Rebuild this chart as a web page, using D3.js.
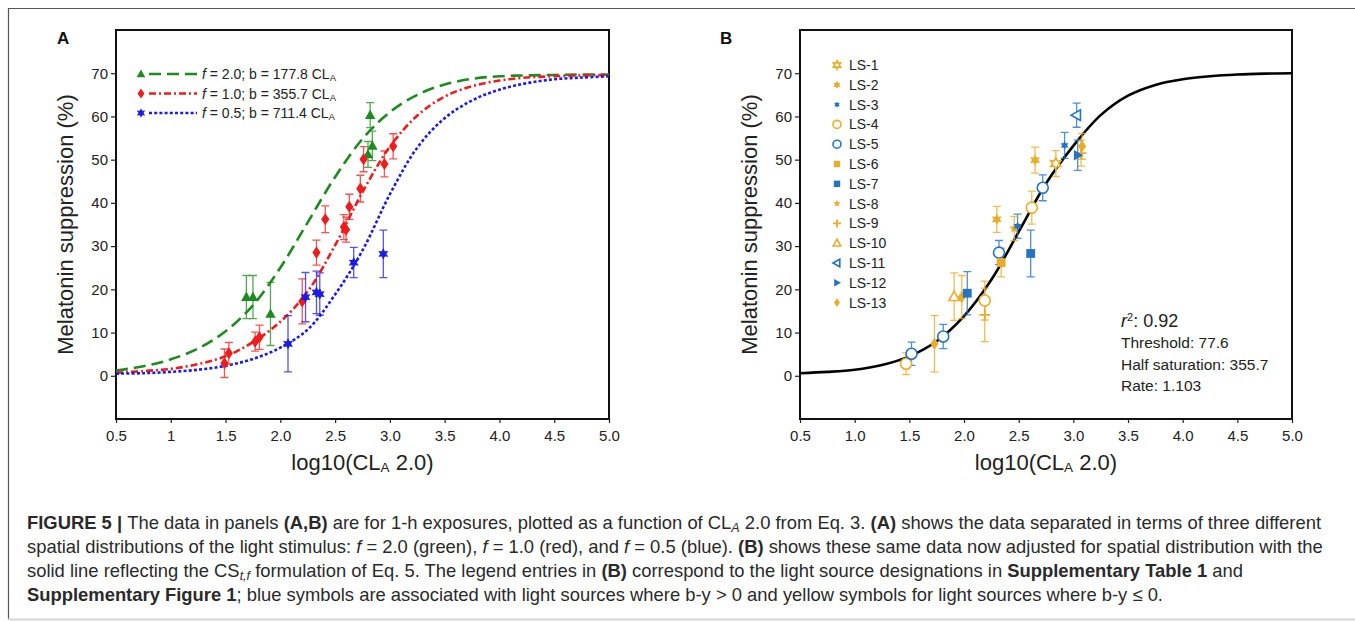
<!DOCTYPE html>
<html>
<head>
<meta charset="utf-8">
<script src="https://cdn.jsdelivr.net/npm/d3@7"></script>
<style>
  body { margin: 0; background: #fff; }
  svg { display: block; font-family: "Liberation Sans", Arial, sans-serif; }
</style>
</head>
<body>
<svg width="1355" height="621"></svg>
<script>
(function (d3) {
  "use strict";

  // ---- data ----
  const yTicks = [0, 10, 20, 30, 40, 50, 60, 70];
  const xTicks = [0.5, 1, 1.5, 2, 2.5, 3, 3.5, 4, 4.5, 5];
  const xTickLabelsA = ["0.5", "1", "1.5", "2.0", "2.5", "3.0", "3.5", "4.0", "4.5", "5.0"];
  const xTickLabelsB = ["0.5", "1.0", "1.5", "2.0", "2.5", "3.0", "3.5", "4.0", "4.5", "5.0"];

  // fitted curves
  const curveX = [0.5, 0.75, 1.0, 1.25, 1.5, 1.75, 2.0, 2.25, 2.5, 2.75, 3.0, 3.25, 3.5, 3.75, 4.0, 4.25, 4.5, 4.75, 5.0];
  const curveF20 = [1.2, 2.2, 3.8, 6.3, 10.3, 16.3, 25.0, 35.5, 46.0, 54.8, 61.0, 65.0, 67.4, 68.7, 69.3, 69.5, 69.6, 69.7, 69.7];
  const curveF10 = [0.7, 1.1, 1.6, 2.7, 4.5, 7.8, 12.5, 19.5, 30.2, 42.5, 53.0, 60.2, 64.6, 67.0, 68.3, 69.0, 69.3, 69.5, 69.6];
  const curveF05 = [0.5, 0.6, 0.9, 1.4, 2.3, 3.9, 6.5, 10.7, 18.8, 29.0, 42.0, 52.8, 59.6, 63.7, 66.2, 67.7, 68.6, 69.0, 69.3];
  const curveFit = [0.6, 0.9, 1.4, 2.5, 4.5, 8.0, 13.8, 22.2, 33.3, 44.5, 53.2, 60.3, 64.8, 67.3, 68.6, 69.3, 69.7, 69.9, 70.0];

  // panel A points: x = log10(CLA 2.0), y = suppression, e = error half-width
  const ptsF20 = [
    { x: 1.69, y: 18.2, e: 5.0 }, { x: 1.75, y: 18.2, e: 5.0 }, { x: 1.91, y: 14.3, e: 7.3 },
    { x: 2.82, y: 60.3, e: 2.9 }, { x: 2.80, y: 51.2, e: 3.0 }, { x: 2.84, y: 53.2, e: 3.4 }
  ];
  const ptsF10 = [
    { x: 1.49, y: 2.9, e: 3.3 }, { x: 1.53, y: 5.2, e: 2.5 }, { x: 1.77, y: 7.9, e: 2.2 },
    { x: 1.81, y: 8.9, e: 2.8 }, { x: 2.20, y: 17.2, e: 5.2 }, { x: 2.33, y: 28.5, e: 2.9 },
    { x: 2.41, y: 36.2, e: 3.1 }, { x: 2.58, y: 34.4, e: 2.9 }, { x: 2.60, y: 33.8, e: 2.9 },
    { x: 2.63, y: 39.1, e: 2.9 }, { x: 2.73, y: 43.3, e: 3.1 }, { x: 2.76, y: 50.1, e: 2.9 },
    { x: 2.95, y: 49.0, e: 3.0 }, { x: 3.03, y: 53.1, e: 2.9 }
  ];
  const ptsF05 = [
    { x: 2.07, y: 7.4, e: 6.5 }, { x: 2.23, y: 18.2, e: 5.7 }, { x: 2.33, y: 19.3, e: 4.9 },
    { x: 2.36, y: 18.9, e: 4.9 }, { x: 2.67, y: 26.2, e: 3.5 }, { x: 2.94, y: 28.2, e: 5.5 }
  ];
  const legendA = [
    { f: "2.0", b: "177.8" }, { f: "1.0", b: "355.7" }, { f: "0.5", b: "711.4" }
  ];

  // panel B points by light source
  const sources = ["LS-1", "LS-2", "LS-3", "LS-4", "LS-5", "LS-6", "LS-7", "LS-8", "LS-9", "LS-10", "LS-11", "LS-12", "LS-13"];
  const ptsB = [
    { s: "LS-4", x: 1.47, y: 2.8, e: 2.5 }, { s: "LS-5", x: 1.52, y: 5.1, e: 2.7 },
    { s: "LS-13", x: 1.73, y: 7.4, e: 6.5 }, { s: "LS-5", x: 1.81, y: 9.1, e: 2.8 },
    { s: "LS-10", x: 1.91, y: 18.3, e: 5.5 }, { s: "LS-13", x: 1.98, y: 18.2, e: 5.0 },
    { s: "LS-7", x: 2.03, y: 19.1, e: 5.0 }, { s: "LS-9", x: 2.19, y: 14.1, e: 6.2 },
    { s: "LS-4", x: 2.19, y: 17.4, e: 4.5 }, { s: "LS-2", x: 2.30, y: 36.2, e: 3.0 },
    { s: "LS-5", x: 2.32, y: 28.5, e: 2.8 }, { s: "LS-6", x: 2.34, y: 26.2, e: 3.3 },
    { s: "LS-8", x: 2.46, y: 34.1, e: 2.8 }, { s: "LS-3", x: 2.49, y: 34.6, e: 2.8 },
    { s: "LS-7", x: 2.61, y: 28.3, e: 5.4 }, { s: "LS-4", x: 2.62, y: 38.9, e: 3.8 },
    { s: "LS-2", x: 2.65, y: 49.9, e: 3.0 }, { s: "LS-5", x: 2.72, y: 43.5, e: 3.0 },
    { s: "LS-1", x: 2.84, y: 49.1, e: 3.0 }, { s: "LS-3", x: 2.92, y: 53.3, e: 3.0 },
    { s: "LS-11", x: 3.03, y: 60.3, e: 2.8 }, { s: "LS-9", x: 3.07, y: 51.5, e: 3.0 },
    { s: "LS-12", x: 3.04, y: 51.0, e: 3.5 }, { s: "LS-13", x: 3.08, y: 53.1, e: 3.0 }
  ];
  const statsB = { r2: "0.92", threshold: "77.6", half: "355.7", rate: "1.103" };

  // ---- styles ----
  const GREEN = "#1f8a1f", RED = "#ee1c1c", BLUE = "#1c1ce6";
  const YEL = "#e8ad2a", LSB = "#2473c4";
  const srcStyle = {
    "LS-1": { shape: "star6", color: YEL, open: true },
    "LS-2": { shape: "star6", color: YEL },
    "LS-3": { shape: "star6s", color: LSB },
    "LS-4": { shape: "circle", color: YEL, open: true },
    "LS-5": { shape: "circle", color: LSB, open: true },
    "LS-6": { shape: "square", color: YEL },
    "LS-7": { shape: "square", color: LSB },
    "LS-8": { shape: "star5", color: YEL },
    "LS-9": { shape: "plus", color: YEL, open: true },
    "LS-10": { shape: "triUp", color: YEL, open: true },
    "LS-11": { shape: "triLeft", color: LSB, open: true },
    "LS-12": { shape: "triRight", color: LSB },
    "LS-13": { shape: "diamond", color: YEL }
  };

  const starPts = (n, ro, ri) => {
    const p = [];
    for (let k = 0; k < 2 * n; k++) {
      const a = -Math.PI / 2 + (k * Math.PI) / n;
      const r = k % 2 ? ri : ro;
      p.push([r * Math.cos(a), r * Math.sin(a)]);
    }
    return "M" + p.map((q) => q[0].toFixed(2) + "," + q[1].toFixed(2)).join("L") + "Z";
  };

  const shapePath = (shape, r) => {
    switch (shape) {
      case "circle": return d3.symbol(d3.symbolCircle, Math.PI * r * r)();
      case "square": return `M${-r * 0.8},${-r * 0.8}h${r * 1.6}v${r * 1.6}h${-r * 1.6}Z`;
      case "diamond": return `M0,${-r * 1.1}L${r * 0.75},0L0,${r * 1.1}L${-r * 0.75},0Z`;
      case "triUp": return `M0,${-r}L${r * 0.95},${r * 0.7}L${-r * 0.95},${r * 0.7}Z`;
      case "triLeft": return `M${-r},0L${r * 0.7},${-r * 0.95}L${r * 0.7},${r * 0.95}Z`;
      case "triRight": return `M${r},0L${-r * 0.7},${-r * 0.95}L${-r * 0.7},${r * 0.95}Z`;
      case "star6": return starPts(6, r * 1.05, r * 0.55);
      case "star6s": return starPts(6, r * 0.8, r * 0.45);
      case "star5": return starPts(5, r * 1.0, r * 0.42);
      case "plus": return `M${-r},0H${r}M0,${-r}V${r}`;
    }
  };

  const svg = d3.select("svg");
  svg.append("rect").attr("width", 1355).attr("height", 621).attr("fill", "#fff");

  // figure frame (right edge runs off the page)
  svg.append("path").attr("d", "M1356,8.5H8.5V619").attr("fill", "none")
    .attr("stroke", "#555").attr("stroke-width", 1.2);
  svg.append("line").attr("x1", 8).attr("x2", 1355).attr("y1", 619.5).attr("y2", 619.5)
    .attr("stroke", "#d6d6d6").attr("stroke-width", 2);

  const y = d3.scaleLinear().domain([-10, 80]).range([419, 30]);

  const panel = (left, right, tickLabels, letter) => {
    const x = d3.scaleLinear().domain([0.5, 5]).range([left, right]);
    const g = svg.append("g");

    const yAxisG = g.append("g").attr("transform", `translate(${left},0)`)
      .call(d3.axisLeft(y).tickValues(yTicks).tickSize(5).tickPadding(3));
    yAxisG.select(".domain").remove();

    const xAxisG = g.append("g").attr("transform", `translate(0,${y(-10)})`)
      .call(d3.axisBottom(x).tickValues(xTicks).tickSize(4).tickPadding(7)
        .tickFormat((d, i) => tickLabels[i]));
    xAxisG.select(".domain").remove();

    g.selectAll(".tick line").attr("stroke", "#222").attr("stroke-width", 1.2);
    g.selectAll(".tick text").attr("font-size", 15).attr("fill", "#222")
      .attr("font-family", "Liberation Sans, Arial, sans-serif");

    g.append("rect").attr("x", left).attr("y", y(80)).attr("width", right - left)
      .attr("height", y(-10) - y(80)).attr("fill", "none")
      .attr("stroke", "#111").attr("stroke-width", 2);

    g.append("text").attr("transform", `translate(${left - 51},${(y(80) + y(-10)) / 2}) rotate(-90)`)
      .attr("text-anchor", "middle").attr("dy", "0.35em").attr("font-size", 22).attr("fill", "#222")
      .text("Melatonin suppression (%)");

    const xl = g.append("text").attr("x", (left + right) / 2).attr("y", 470)
      .attr("text-anchor", "middle").attr("font-size", 22).attr("fill", "#222");
    xl.append("tspan").text("log10(CL");
    xl.append("tspan").attr("font-size", 13.5).attr("baseline-shift", "-2").text("A");
    xl.append("tspan").text(" 2.0)");

    svg.append("text").attr("x", left - 59 - (letter === "B" ? 21 : 0)).attr("y", 44)
      .attr("font-size", 17).attr("font-weight", "bold").attr("fill", "#111").text(letter);

    return { x, g };
  };

  const errBars = (g, x, pts, color, opacity) => {
    const eb = g.append("g").attr("stroke", color).attr("stroke-width", 1.3)
      .attr("stroke-opacity", opacity).attr("fill", "none");
    eb.selectAll("path").data(pts).enter().append("path")
      .attr("d", (d) => {
        const cx = x(d.x), y1 = y(d.y + d.e), y2 = y(d.y - d.e);
        return `M${cx - 4},${y1}H${cx + 4}M${cx},${y1}V${y2}M${cx - 4},${y2}H${cx + 4}`;
      });
  };

  const line = (x) => d3.line().x((d) => x(d[0])).y((d) => y(d[1])).curve(d3.curveCatmullRom.alpha(0.5));

  // ---- panel A ----
  const A = panel(116, 609, xTickLabelsA, "A");
  const seriesA = [
    { pts: ptsF20, curve: curveF20, color: GREEN, dash: "12,6", shape: "triUp", r: 5.5 },
    { pts: ptsF10, curve: curveF10, color: RED, dash: "7,3,2,3", shape: "diamond", r: 5.5 },
    { pts: ptsF05, curve: curveF05, color: BLUE, dash: "3,2.2", shape: "star6", r: 5.5 }
  ];
  seriesA.forEach((s) => {
    A.g.append("path").datum(curveX.map((v, i) => [v, s.curve[i]]))
      .attr("d", line(A.x)).attr("fill", "none").attr("stroke", s.color)
      .attr("stroke-width", 2.6).attr("stroke-dasharray", s.dash);
  });
  seriesA.forEach((s) => {
    errBars(A.g, A.x, s.pts, s.color, 0.75);
    A.g.append("g").selectAll("path").data(s.pts).enter().append("path")
      .attr("transform", (d) => `translate(${A.x(d.x)},${y(d.y)})`)
      .attr("d", shapePath(s.shape, s.r)).attr("fill", s.color);
  });
  // legend A
  seriesA.forEach((s, i) => {
    const ly = 74 + i * 19.5;
    A.g.append("path").attr("transform", `translate(141,${ly})`)
      .attr("d", shapePath(s.shape, 4.6)).attr("fill", s.color);
    A.g.append("line").attr("x1", 149).attr("x2", 197).attr("y1", ly).attr("y2", ly)
      .attr("stroke", s.color).attr("stroke-width", 2.4).attr("stroke-dasharray", s.dash);
    const t = A.g.append("text").attr("x", 202).attr("y", ly + 5).attr("font-size", 14).attr("fill", "#222");
    t.append("tspan").attr("font-style", "italic").text("f");
    t.append("tspan").text(` = ${legendA[i].f}; b = ${legendA[i].b} CL`);
    t.append("tspan").attr("font-size", 9.5).attr("baseline-shift", "-2").text("A");
  });

  // ---- panel B ----
  const B = panel(800, 1292, xTickLabelsB, "B");
  B.g.append("path").datum(curveX.map((v, i) => [v, curveFit[i]]))
    .attr("d", line(B.x)).attr("fill", "none").attr("stroke", "#000").attr("stroke-width", 2.6);

  const drawMark = (sel, st, r) => {
    sel.attr("d", shapePath(st.shape, r))
      .attr("fill", st.open ? (st.shape === "plus" ? "none" : "#fff") : st.color)
      .attr("stroke", st.open ? st.color : "none")
      .attr("stroke-width", st.shape === "plus" ? 1.8 : 1.6);
  };
  sources.forEach((src) => {
    const pts = ptsB.filter((d) => d.s === src);
    errBars(B.g, B.x, pts, srcStyle[src].color, 0.8);
  });
  ptsB.forEach((d) => {
    B.g.append("path").attr("transform", `translate(${B.x(d.x)},${y(d.y)})`)
      .call(drawMark, srcStyle[d.s], 5.5);
  });
  sources.forEach((src, i) => {
    const ly = 65 + i * 19.8;
    B.g.append("path").attr("transform", `translate(837,${ly})`).call(drawMark, srcStyle[src], 4);
    B.g.append("text").attr("x", 849).attr("y", ly + 5).attr("font-size", 14).attr("fill", "#222").text(src);
  });

  const st = B.g.append("g").attr("fill", "#222");
  const r2 = st.append("text").attr("x", 1121).attr("y", 327).attr("font-size", 18);
  r2.append("tspan").attr("font-style", "italic").text("r");
  r2.append("tspan").attr("font-size", 11).attr("baseline-shift", "6").text("2");
  r2.append("tspan").text(`: ${statsB.r2}`);
  [`Threshold: ${statsB.threshold}`, `Half saturation: ${statsB.half}`, `Rate: ${statsB.rate}`]
    .forEach((s, i) => {
      st.append("text").attr("x", 1121).attr("y", 348 + i * 21.7).attr("font-size", 15.5).text(s);
    });

  // ---- caption ----
  const caption = [
    [["b", "FIGURE 5 | "], ["n", "The data in panels "], ["b", "(A,B)"], ["n", " are for 1-h exposures, plotted as a function of CL"],
     ["si", "A"], ["n", " 2.0 from Eq. 3. "], ["b", "(A)"], ["n", " shows the data separated in terms of three different"]],
    [["n", "spatial distributions of the light stimulus: "], ["i", "f"], ["n", " = 2.0 (green), "], ["i", "f"],
     ["n", " = 1.0 (red), and "], ["i", "f"], ["n", " = 0.5 (blue). "], ["b", "(B)"],
     ["n", " shows these same data now adjusted for spatial distribution with the"]],
    [["n", "solid line reflecting the CS"], ["si", "t,f"], ["n", " formulation of Eq. 5. The legend entries in "], ["b", "(B)"],
     ["n", " correspond to the light source designations in "], ["b", "Supplementary Table 1"], ["n", " and"]],
    [["b", "Supplementary Figure 1"], ["n", "; blue symbols are associated with light sources where b-y > 0 and yellow symbols for light sources where b-y \u2264 0."]]
  ];
  caption.forEach((segs, i) => {
    const t = svg.append("text").attr("x", 27).attr("y", 529 + i * 24)
      .attr("font-size", 18.4).attr("fill", "#2a2a2a");
    segs.forEach(([k, s]) => {
      const ts = t.append("tspan").text(s);
      if (k === "b") ts.attr("font-weight", "bold");
      if (k === "i") ts.attr("font-style", "italic");
      if (k === "si") ts.attr("font-style", "italic").attr("font-size", 12.5).attr("baseline-shift", "-3");
    });
  });
})(d3);
</script>
</body>
</html>
